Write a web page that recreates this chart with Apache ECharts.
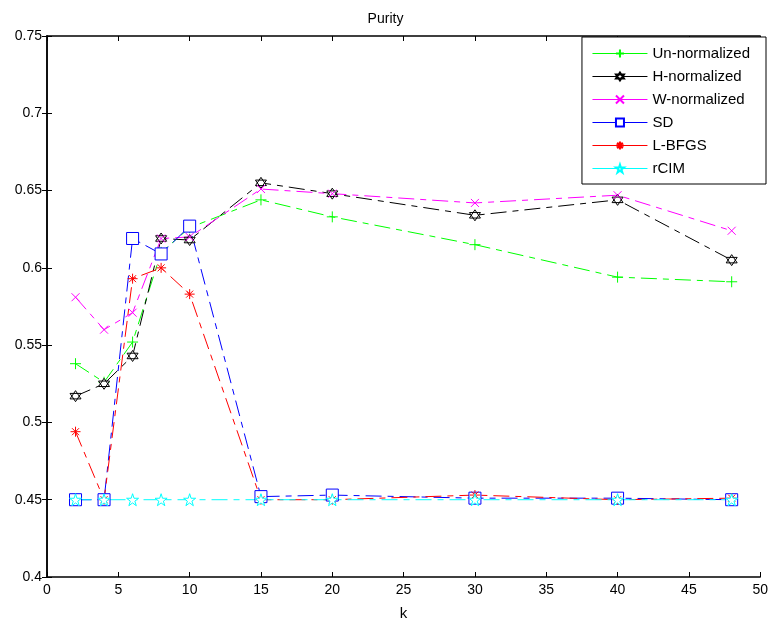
<!DOCTYPE html>
<html>
<head>
<meta charset="utf-8">
<script src="https://cdn.jsdelivr.net/npm/echarts@6/dist/echarts.min.js"></script>
<style>
html, body { margin: 0; padding: 0; background: #fff; }
#main { width: 771px; height: 626px; }
</style>
</head>
<body>
<div id="main"></div>
<script>
// k values and purity per method
var kValues = [2, 4, 6, 8, 10, 15, 20, 30, 40, 48];
var unNormalized = [0.538, 0.526, 0.552, 0.610, 0.626, 0.644, 0.633, 0.615, 0.594, 0.591];
var hNormalized = [0.517, 0.525, 0.543, 0.619, 0.618, 0.655, 0.648, 0.634, 0.644, 0.605];
var wNormalized = [0.581, 0.560, 0.571, 0.619, 0.620, 0.651, 0.648, 0.642, 0.647, 0.624];
var sdVals = [0.450, 0.450, 0.619, 0.609, 0.627, 0.452, 0.453, 0.451, 0.451, 0.450];
var lbfgsVals = [0.494, 0.450, 0.593, 0.600, 0.583, 0.450, 0.450, 0.453, 0.450, 0.451];
var rcimVals = [0.450, 0.450, 0.450, 0.450, 0.450, 0.450, 0.450, 0.450, 0.450, 0.450];

var seriesNames = ['Un-normalized', 'H-normalized', 'W-normalized', 'SD', 'L-BFGS', 'rCIM'];
var seriesColors = ['#00ff00', '#000000', '#ff00ff', '#0000ff', '#ff0000', '#00ffff'];

var plusSym = 'path://M5,0L5,10M0,5L10,5';
var crossSym = 'path://M0,0L10,10M10,0L0,10';
var hexSym = 'path://M5,0L9.33,7.5L0.67,7.5Z M5,10L0.67,2.5L9.33,2.5Z';
var starSym = 'path://M5,0L6.18,3.6L10,3.6L6.9,5.9L8.1,9.5L5,7.3L1.9,9.5L3.1,5.9L0,3.6L3.82,3.6Z';
var asterSym = 'path://M5,0L5,10M0,5L10,5M1.5,1.5L8.5,8.5M8.5,1.5L1.5,8.5';

function pairs(vals) {
	return kValues.map(function (k, i) { return [k, vals[i]]; });
}

function mkSeries(idx, vals, symbol, size) {
	var color = seriesColors[idx];
	return {
		name: seriesNames[idx],
		type: 'line',
		data: pairs(vals),
		symbol: symbol,
		symbolSize: size,
		showSymbol: true,
		lineStyle: { color: color, width: 1, type: [16, 6, 6, 6] },
		itemStyle: { color: '#fff', borderColor: color, borderWidth: 1 },
		emphasis: { disabled: true },
		animation: false
	};
}

var font = 'Liberation Sans, Arial, sans-serif';
var labelFmt = function (v) { return String(+v.toFixed(2)); };

var chart = echarts.init(document.getElementById('main'));
chart.setOption({
	backgroundColor: '#fff',
	animation: false,
	title: {
		text: 'Purity',
		left: 'center',
		top: 7,
		textStyle: { fontFamily: font, fontSize: 14, fontWeight: 'normal', color: '#000' }
	},
	legend: {
		orient: 'vertical',
		right: 5,
		top: 37,
		padding: [8, 16, 7, 10],
		itemGap: 6,
		itemWidth: 55,
		itemHeight: 10,
		backgroundColor: '#fff',
		borderColor: '#000',
		borderWidth: 1,
		textStyle: { fontFamily: font, fontSize: 15, lineHeight: 17, color: '#000' },
		data: seriesNames.map(function (n, i) {
			return { name: n, lineStyle: { color: seriesColors[i], width: 1, type: 'solid' } };
		})
	},
	grid: { left: 47, right: 5, top: 36, bottom: 45, containLabel: false },
	xAxis: [{
		type: 'value',
		min: 0, max: 50, interval: 5,
		name: 'k',
		nameLocation: 'middle',
		nameGap: 29,
		nameTextStyle: { fontFamily: font, fontSize: 15, color: '#000' },
		axisLine: { lineStyle: { color: '#000', width: 1.5 } },
		axisTick: { inside: true, length: 5, lineStyle: { color: '#000' } },
		axisLabel: { fontFamily: font, fontSize: 14, color: '#000', margin: 6 },
		splitLine: { show: false }
	}, {
		type: 'value', position: 'top',
		min: 0, max: 50, interval: 5,
		axisLine: { show: true, lineStyle: { color: '#000', width: 1.5 } },
		axisTick: { inside: true, length: 5, lineStyle: { color: '#000' } },
		axisLabel: { show: false },
		splitLine: { show: false }
	}],
	yAxis: [{
		type: 'value',
		min: 0.4, max: 0.75, interval: 0.05,
		axisLine: { show: true, lineStyle: { color: '#000', width: 1.5 } },
		axisTick: { show: true, inside: true, length: 5, lineStyle: { color: '#000' } },
		axisLabel: { fontFamily: font, fontSize: 14, color: '#000', margin: 5, formatter: labelFmt },
		splitLine: { show: false }
	}, {
		type: 'value', position: 'right',
		min: 0.4, max: 0.75, interval: 0.05,
		axisLine: { show: true, lineStyle: { color: '#000', width: 1.5 } },
		axisTick: { show: true, inside: true, length: 5, lineStyle: { color: '#000' } },
		axisLabel: { show: false },
		splitLine: { show: false }
	}],
	series: [
		mkSeries(0, unNormalized, plusSym, 11),
		mkSeries(1, hNormalized, hexSym, 11),
		mkSeries(2, wNormalized, crossSym, 8),
		mkSeries(3, sdVals, 'rect', 12),
		mkSeries(4, lbfgsVals, asterSym, 10),
		mkSeries(5, rcimVals, starSym, 12)
	]
});
</script>
</body>
</html>
